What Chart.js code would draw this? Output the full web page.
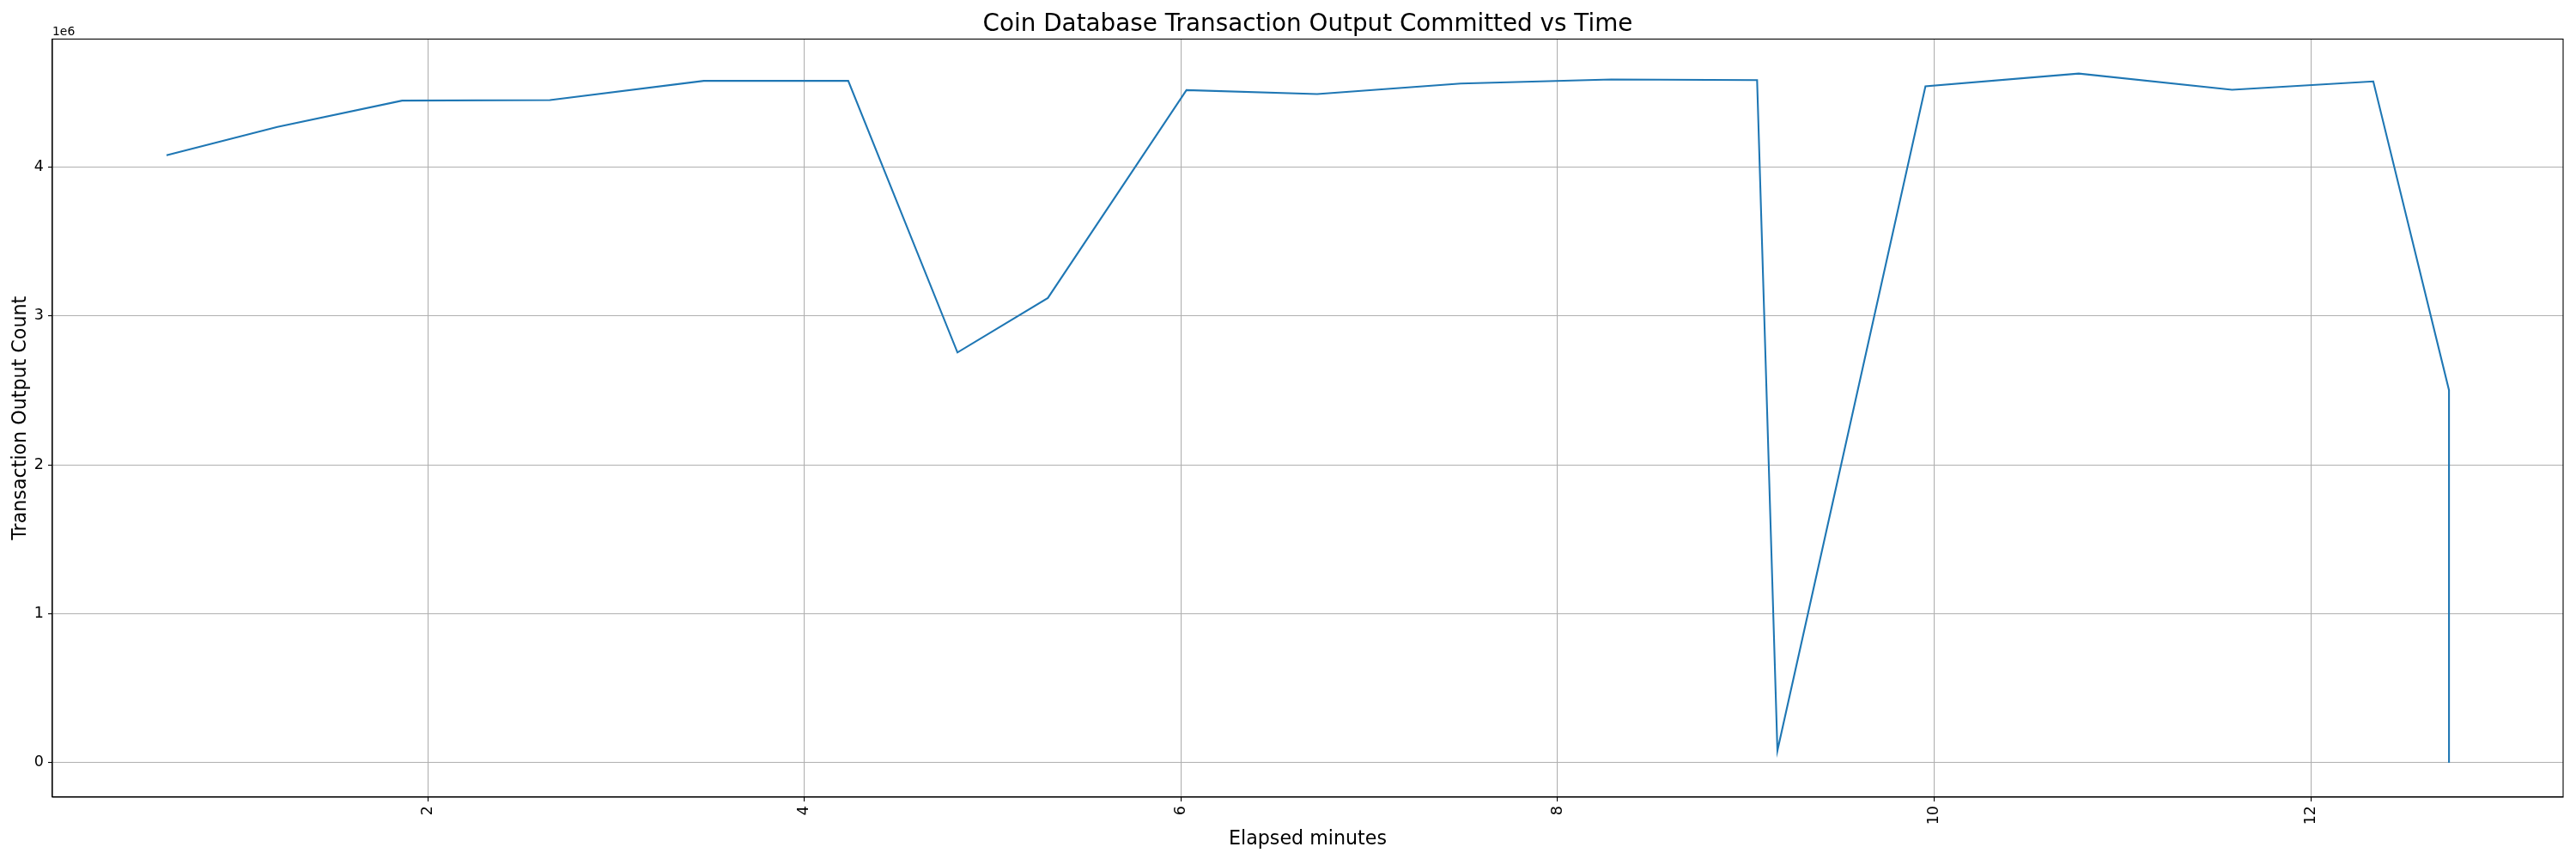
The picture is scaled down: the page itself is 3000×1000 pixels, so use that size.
<!DOCTYPE html>
<html>
<head>
<meta charset="utf-8">
<style>
  html, body { margin: 0; padding: 0; background: #fff; }
  #wrap { width: 3000px; height: 1000px; }
</style>
<script src="https://cdn.jsdelivr.net/npm/chart.js@4/dist/chart.umd.min.js"></script>
</head>
<body>
<div id="wrap"><canvas id="chart" width="3000" height="1000"></canvas></div>
<script>
// ===== DATA =====
const minutes = [0.613, 1.202, 1.864, 2.649, 3.466, 4.233, 4.813, 5.293, 6.029, 6.723,
                 7.485, 8.285, 9.059, 9.167, 9.953, 10.767, 11.581, 12.331, 12.733, 12.733];
const outputCounts = [4079000, 4270000, 4446000, 4450000, 4579000, 4579000, 2755000, 3121000, 4517000, 4490000,
                      4561000, 4588000, 4584000, 81000, 4542000, 4628000, 4519000, 4575000, 2502000, 0];
const xTickValues = [2, 4, 6, 8, 10, 12];
const yTickValues = [0, 1000000, 2000000, 3000000, 4000000];

const FONT = "'DejaVu Sans', sans-serif";
const lineColor = '#1f77b4';
const gridColor = '#b0b0b0';

// matplotlib-style 5% margins around the data
function padded(values) {
  const lo = Math.min(...values), hi = Math.max(...values);
  const pad = (hi - lo) * 0.05;
  return [lo - pad, hi + pad];
}
const [xMin, xMax] = padded(minutes);
const [yMin, yMax] = padded(outputCounts);

// top/right spines + "1e6" offset label
const framePlugin = {
  id: 'frame',
  afterDraw(chart) {
    const { ctx, chartArea: a } = chart;
    ctx.save();
    ctx.strokeStyle = '#000';
    ctx.lineWidth = 1.1;
    ctx.strokeRect(a.left, a.top, a.right - a.left, a.bottom - a.top);
    ctx.fillStyle = '#000';
    ctx.font = '13.9px ' + FONT;
    ctx.textAlign = 'left';
    ctx.textBaseline = 'alphabetic';
    ctx.fillText('1e6', a.left, a.top - 4.5);
    ctx.restore();
  }
};

new Chart(document.getElementById('chart'), {
  type: 'line',
  data: {
    datasets: [{
      data: minutes.map((m, i) => ({ x: m, y: outputCounts[i] })),
      borderColor: lineColor,
      borderWidth: 2.1,
      pointRadius: 0,
      tension: 0,
      fill: false
    }]
  },
  plugins: [framePlugin],
  options: {
    responsive: false,
    animation: false,
    layout: { padding: { top: 0, right: 15, bottom: 0, left: 0 } },
    plugins: {
      legend: { display: false },
      tooltip: { enabled: false },
      title: {
        display: true,
        fullSize: false,
        text: 'Coin Database Transaction Output Committed vs Time',
        color: '#000',
        font: { family: FONT, size: 27.8, weight: 'normal', lineHeight: 1 },
        padding: { top: 14.8, bottom: 2.9 }
      }
    },
    scales: {
      x: {
        type: 'linear',
        min: xMin,
        max: xMax,
        afterBuildTicks: s => { s.ticks = xTickValues.map(v => ({ value: v })); },
        afterFit: s => { s.height = 72; },
        grid: { color: gridColor, lineWidth: 1.1, tickColor: '#000', tickLength: 5, tickWidth: 1.1 },
        border: { display: true, color: '#000', width: 1.1 },
        ticks: {
          color: '#000',
          font: { family: FONT, size: 17.5 },
          padding: 5,
          minRotation: 90,
          maxRotation: 90,
          autoSkip: false,
          callback: v => String(v)
        },
        title: {
          display: true,
          text: 'Elapsed minutes',
          color: '#000',
          font: { family: FONT, size: 22.2 },
          padding: { top: 0, bottom: 9 }
        }
      },
      y: {
        min: yMin,
        max: yMax,
        afterBuildTicks: s => { s.ticks = yTickValues.map(v => ({ value: v })); },
        afterFit: s => { s.width = 61; },
        grid: { color: gridColor, lineWidth: 1.1, tickColor: '#000', tickLength: 5, tickWidth: 1.1 },
        border: { display: true, color: '#000', width: 1.1 },
        ticks: {
          color: '#000',
          font: { family: FONT, size: 17.5 },
          padding: 5,
          autoSkip: false,
          callback: v => String(v / 1e6)
        },
        title: {
          display: true,
          text: 'Transaction Output Count',
          color: '#000',
          font: { family: FONT, size: 22.2 },
          padding: { top: 11, bottom: 0 }
        }
      }
    }
  }
});
</script>
</body>
</html>
